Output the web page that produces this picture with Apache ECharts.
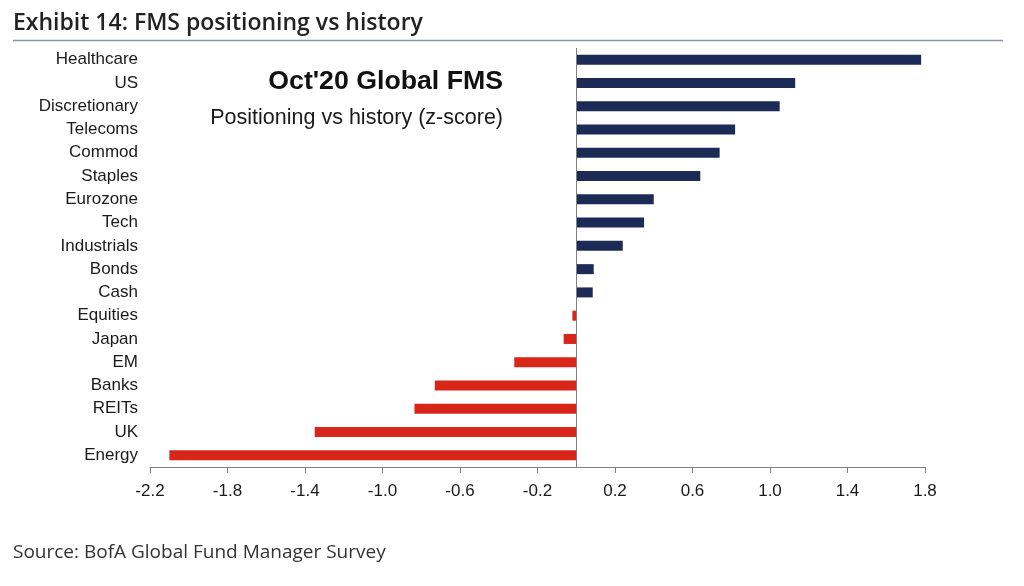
<!DOCTYPE html>
<html lang="en">
<head>
    <meta charset="UTF-8">
    <title>FMS positioning vs history</title>
    <script src="https://cdn.jsdelivr.net/npm/echarts@6/dist/echarts.min.js"></script>
    <style>
        html, body { margin: 0; padding: 0; background: #fff; }
        #myChart { width: 1024px; height: 586px; }
    </style>
</head>
<body>
<div id="myChart"></div>
<script type="text/javascript">
    // categories top to bottom
    var categories = ["Healthcare", "US", "Discretionary", "Telecoms", "Commod", "Staples", "Eurozone",
        "Tech", "Industrials", "Bonds", "Cash", "Equities", "Japan", "EM", "Banks", "REITs", "UK", "Energy"];
    // z-score
    var zScores = [1.78, 1.13, 1.05, 0.82, 0.74, 0.64, 0.40,
        0.35, 0.24, 0.09, 0.085, -0.02, -0.065, -0.32, -0.73, -0.835, -1.35, -2.10];
    var tickMin = -2.2, tickMax = 1.8, tickStep = 0.4;

    var navy = "#1c2b55", red = "#d8261b";

    var myChart = echarts.init(document.getElementById('myChart'));
    var option = {
        animation: false,
        backgroundColor: "#fff",
        grid: {left: 150, right: 99, top: 48, bottom: 119},
        xAxis: {
            type: "value",
            min: tickMin,
            max: tickMax,
            interval: tickStep,
            splitLine: {show: false},
            axisLine: {show: true, onZero: false, lineStyle: {color: "#7f7f7f", width: 1}},
            axisTick: {show: true, length: 6, lineStyle: {color: "#7f7f7f"}},
            axisLabel: {
                margin: 16,
                fontFamily: "Liberation Sans",
                fontSize: 17,
                color: "#1a1a1a",
                formatter: function (v) { return v.toFixed(1); }
            }
        },
        yAxis: {
            type: "category",
            inverse: true,
            data: categories,
            axisLine: {show: false, onZero: false},
            axisTick: {show: false},
            axisLabel: {
                margin: 12,
                fontFamily: "Liberation Sans",
                fontSize: 17,
                color: "#1a1a1a"
            }
        },
        series: [{
            type: "bar",
            barWidth: 10,
            data: zScores,
            itemStyle: {
                color: function (p) { return p.value >= 0 ? navy : red; }
            },
            markLine: {
                silent: true,
                symbol: "none",
                label: {show: false},
                lineStyle: {color: "#7f7f7f", width: 1, type: "solid"},
                data: [{xAxis: 0}]
            }
        }],
        graphic: [
            {
                type: "text", left: 13, top: 12,
                style: {text: "Exhibit 14: FMS positioning vs history", fontFamily: "Open Sans",
                    fontWeight: 600, fontSize: 23, fill: "#222"}
            },
            {
                type: "line", shape: {x1: 13, y1: 40.5, x2: 1003, y2: 40.5},
                style: {stroke: "#8b94a5", lineWidth: 1.5}
            },
            {
                type: "text", x: 503, y: 82,
                style: {text: "Oct'20 Global FMS", fontFamily: "Liberation Sans", fontWeight: "bold",
                    fontSize: 26.7, fill: "#111", align: "right", verticalAlign: "middle"}
            },
            {
                type: "text", x: 503, y: 118,
                style: {text: "Positioning vs history (z-score)", fontFamily: "Liberation Sans",
                    fontSize: 21.5, fill: "#1a1a1a", align: "right", verticalAlign: "middle"}
            },
            {
                type: "text", left: 13, top: 543,
                style: {text: "Source: BofA Global Fund Manager Survey", fontFamily: "Open Sans",
                    fontSize: 19, fill: "#333"}
            }
        ]
    };
    myChart.setOption(option);
</script>
</body>
</html>
